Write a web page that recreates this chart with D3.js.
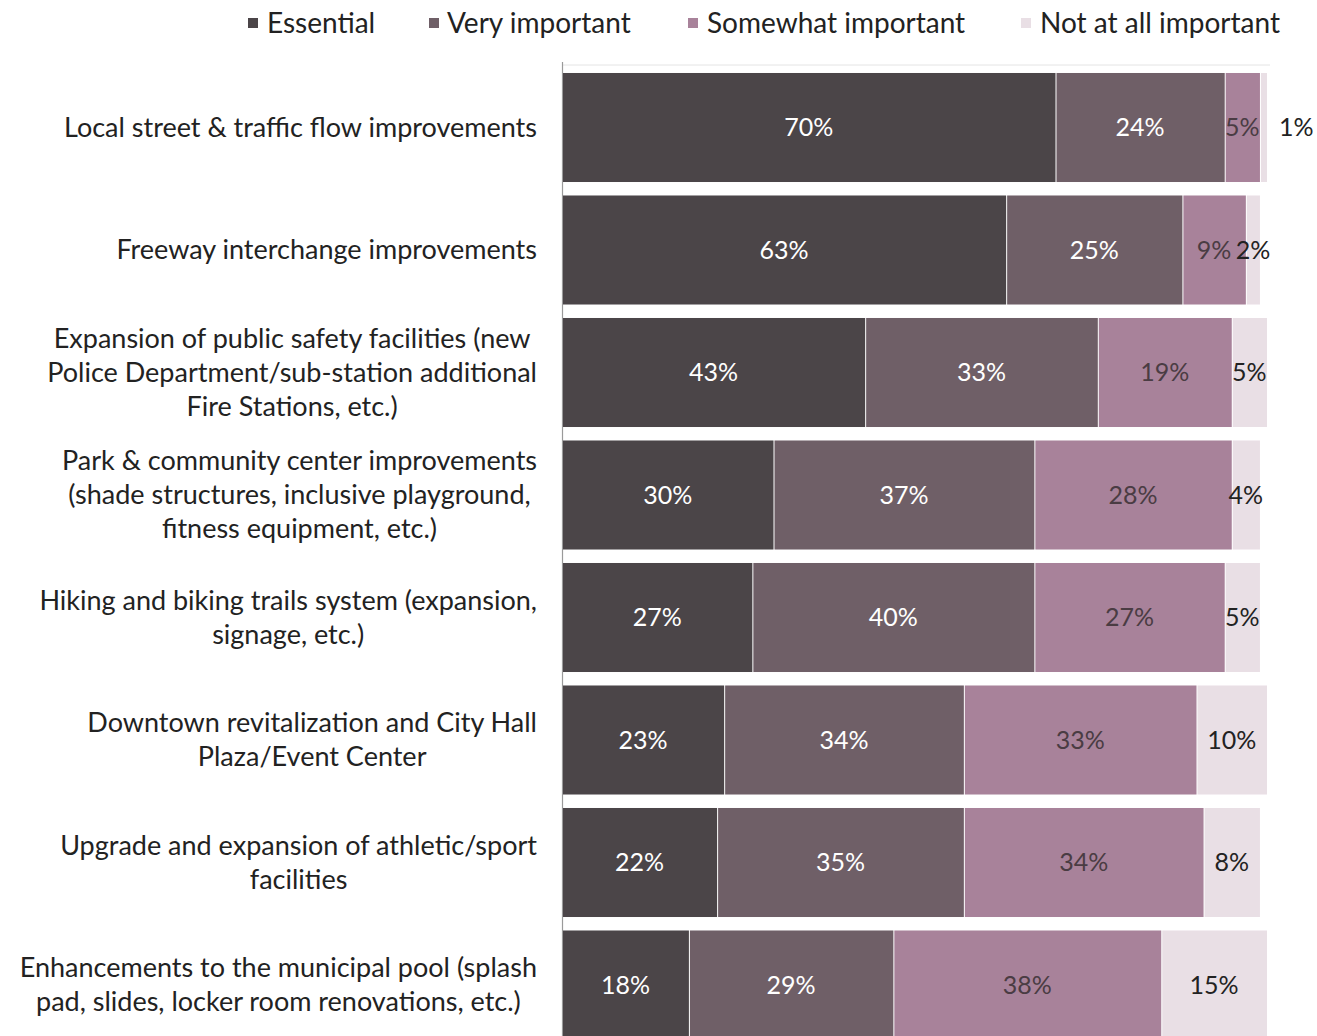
<!DOCTYPE html>
<html>
<head>
<meta charset="utf-8">
<script src="https://cdn.jsdelivr.net/npm/d3@7"></script>
<style>
  html, body { margin: 0; padding: 0; background: #fff; }
  svg { display: block; }
  text { font-family: Lato, "Open Sans", sans-serif; }
</style>
</head>
<body>
<svg id="chart" width="1317" height="1036"></svg>
<script>
const categories = [
  ["Local street & traffic flow improvements"],
  ["Freeway interchange improvements"],
  ["Expansion of public safety facilities (new", "Police Department/sub-station additional", "Fire Stations, etc.)"],
  ["Park & community center improvements", "(shade structures, inclusive playground,", "fitness equipment, etc.)"],
  ["Hiking and biking trails system (expansion,", "signage, etc.)"],
  ["Downtown revitalization and City Hall", "Plaza/Event Center"],
  ["Upgrade and expansion of athletic/sport", "facilities"],
  ["Enhancements to the municipal pool (splash", "pad, slides, locker room renovations, etc.)"]
];
const seriesNames = ["Essential", "Very important", "Somewhat important", "Not at all important"];
const essential = [70, 63, 43, 30, 27, 23, 22, 18];
const veryImportant = [24, 25, 33, 37, 40, 34, 35, 29];
const somewhatImportant = [5, 9, 19, 28, 27, 33, 34, 38];
const notAtAll = [1, 2, 5, 4, 5, 10, 8, 15];
const xTicks = [0, 100];

const colors = ["#4b4548", "#6f5f67", "#a8829a", "#e9dfe5"];
const labelColors = ["#ffffff", "#ffffff", "#4a3c43", "#222222"];

const series = [essential, veryImportant, somewhatImportant, notAtAll];
const svg = d3.select("#chart");

const x = d3.scaleLinear().domain(xTicks).range([562, 1267]);
const y = d3.scaleBand().domain(d3.range(categories.length)).range([66.25, 1046.25])
  .paddingInner(0.11).paddingOuter(0.055);

const rows = categories.map((c, i) => {
  let cum = 0;
  return series.map((s, k) => {
    const seg = { row: i, k, v: s[i], x0: cum, x1: cum + s[i] };
    cum += s[i];
    return seg;
  });
});

// faint top line and axis
svg.append("line").attr("x1", x(0)).attr("x2", 1270).attr("y1", 65).attr("y2", 65)
  .attr("stroke", "#e4e4e4").attr("stroke-width", 1);
svg.append("line").attr("x1", x(0) + 0.5).attr("x2", x(0) + 0.5).attr("y1", 62).attr("y2", 1036)
  .attr("stroke", "#9a9a9a").attr("stroke-width", 1.2);

const g = svg.append("g");
rows.forEach(segs => {
  segs.forEach(s => {
    g.append("rect")
      .attr("x", x(s.x0) + 1)
      .attr("y", y(s.row))
      .attr("width", Math.max(0, x(s.x1) - x(s.x0) - 1))
      .attr("height", y.bandwidth())
      .attr("fill", colors[s.k]);
  });
  segs.forEach(s => {
    let tx, anchor = "middle", fill = labelColors[s.k];
    if (s.v <= 1) {
      tx = x(s.x1) + 12; anchor = "start"; fill = "#222";
    } else {
      tx = (x(s.x0) + x(s.x1)) / 2;
    }
    g.append("text")
      .attr("x", tx)
      .attr("y", y(s.row) + y.bandwidth() / 2)
      .attr("dy", "0.35em")
      .attr("text-anchor", anchor)
      .attr("font-size", 25)
      .attr("fill", fill)
      .text(s.v + "%");
  });
});

// category labels: center-aligned block, right edge at 537
const labelRight = 537;
const lineH = 34;
categories.forEach((lines, i) => {
  const cy = y(i) + y.bandwidth() / 2;
  const grp = svg.append("g");
  const texts = lines.map((ln, j) => grp.append("text")
    .attr("y", cy + (j - (lines.length - 1) / 2) * lineH)
    .attr("dy", "0.35em")
    .attr("font-size", 27)
    .attr("fill", "#222")
    .attr("text-anchor", "middle")
    .text(ln));
  const maxW = d3.max(texts, t => t.node().getComputedTextLength());
  texts.forEach(t => t.attr("x", labelRight - maxW / 2));
});

// legend
const legendItems = [
  { sx: 248, tx: 267 },
  { sx: 429, tx: 447 },
  { sx: 688, tx: 707 },
  { sx: 1021, tx: 1040 }
];
seriesNames.forEach((n, k) => {
  svg.append("rect").attr("x", legendItems[k].sx).attr("y", 18).attr("width", 10).attr("height", 10)
    .attr("fill", colors[k]);
  svg.append("text").attr("x", legendItems[k].tx).attr("y", 23).attr("dy", "0.35em")
    .attr("font-size", 28).attr("fill", "#222").text(n);
});
</script>
</body>
</html>
